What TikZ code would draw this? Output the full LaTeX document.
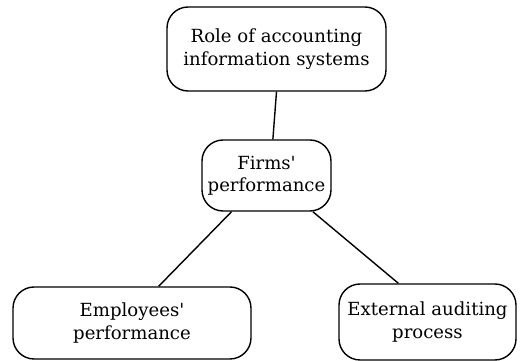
\documentclass[tikz,border=0pt]{standalone}
\usepackage{fontspec}
\setmainfont{DejaVu Serif}
\usepackage{tikz}
\usetikzlibrary{positioning}

\tikzset{
    factor/.style={draw, thick, rounded corners=12pt, align=center,
        font=\fontsize{10.3}{12.8}\selectfont, inner sep=0pt},
    link/.style={thick}
}

\begin{document}
\begin{tikzpicture}[x=0.02cm, y=0.02cm]
    \useasboundingbox (0,0) rectangle (522,361);

    % Boxes
    \node[factor, minimum width=219*0.02cm, minimum height=84*0.02cm] (role) at (276.5,312)
        {Role of accounting\\information systems};
    \node[factor, minimum width=129*0.02cm, minimum height=71*0.02cm] (firms) at (266.5,185.5)
        {Firms\textquotesingle\\performance};
    \node[factor, minimum width=238*0.02cm, minimum height=72*0.02cm] (emp) at (132,38)
        {Employees\textquotesingle\\performance};
    \node[factor, minimum width=177*0.02cm, minimum height=76*0.02cm] (ext) at (427.5,39)
        {External auditing\\process};

    % Connections
    \draw[link] (role.south) -- (firms.80);
    \draw[link] (firms.226) -- (emp.54);
    \draw[link] (firms.322) -- (ext.127);
\end{tikzpicture}
\end{document}
